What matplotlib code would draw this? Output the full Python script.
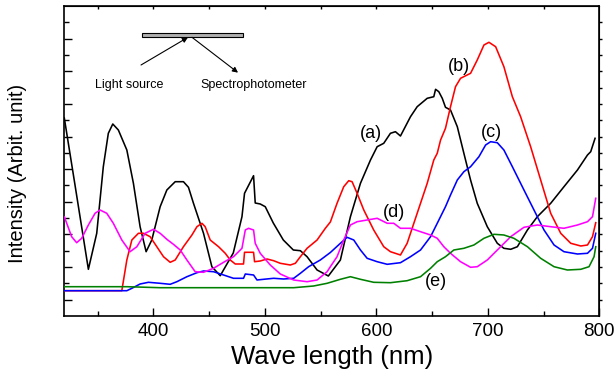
import matplotlib
matplotlib.use("Agg")
import matplotlib.pyplot as plt
from matplotlib.ticker import MultipleLocator, FixedLocator, NullFormatter
from matplotlib.patches import Rectangle, FancyArrowPatch

plt.rcParams['font.family'] = ['Liberation Sans', 'DejaVu Sans']

# ---- data (wavelength nm, intensity arb. units) ----
wl_a = [320, 329.6, 341.6, 349.1, 355.0, 359.5, 363.5, 368.5, 376.1, 382.0, 388.0, 393.4, 398.5,
        406.0, 412.0, 419.5, 426.9, 431.4, 435.9, 444.9, 452.4, 459.9, 471.6, 479.4, 481.7, 489.8,
        491.3, 495.8, 500.3, 507.5, 516.5, 525.5, 531.8, 537.8, 546.8, 556.9, 567.7, 576.7, 585.7,
        594.7, 600.7, 606.6, 612.6, 617.1, 621.6, 630.6, 636.6, 645.6, 651.5, 653.1, 656.0, 659.1,
        662.0, 666.5, 672.6, 678.5, 684.5, 690.5, 699.5, 708.5, 714.4, 720.5, 726.5, 735.5, 744.4,
        756.4, 768.3, 780.4, 789.4, 792.3, 796.2]
int_a = [198, 131, 46.7, 82.7, 149.3, 182.7, 192, 186, 166, 132.7, 89.3, 64.3, 76,
         109.3, 126, 134.3, 134.3, 128.7, 112.7, 82.7, 49.3, 40.3, 63, 99.3, 122.7, 140.3,
         113, 112, 109.3, 93, 76, 66, 65.3, 59.3, 46, 40, 56, 99.3, 132.7,
         156, 169.3, 172.7, 182.7, 184.3, 180, 199.3, 209.3, 217.7, 219.3, 226.7, 224.3, 217.7,
         208.7, 206, 189.3, 162.7, 136, 112.7, 89.3, 72.7, 67.7, 66.7, 69.3, 86, 99.3,
         112.7, 129.3, 146, 161, 164.3, 177.7]

wl_b = [320, 371.6, 376.1, 380.6, 386.5, 391.0, 397.0, 403.0, 409.0, 415.0, 419.5, 426.9, 434.5,
        439.0, 443.5, 446.4, 450.9, 458.4, 464.4, 468.9, 473.4, 480.8, 481.7, 489.8, 490.7, 495.8,
        501.9, 507.8, 513.8, 522.8, 527.3, 531.8, 537.8, 546.8, 554.2, 558.7, 564.7, 570.7, 575.2,
        578.2, 582.7, 588.7, 597.6, 606.6, 612.6, 621.6, 627.6, 633.6, 639.6, 645.6, 651.5, 654.6,
        657.6, 662.0, 666.5, 671.0, 675.5, 684.5, 690.5, 696.5, 701.0, 707.0, 714.4, 722.0, 729.4,
        738.4, 747.4, 756.4, 765.4, 774.4, 783.4, 789.4, 793.9, 796.8]
int_b = [25.3, 25.3, 56, 76, 82.7, 82.7, 79.3, 69.3, 59.3, 53.7, 56, 69.3, 81,
         89.3, 92.7, 89.3, 76, 69.3, 62.7, 56, 52, 52, 63.7, 63.7, 54.3, 55,
         57, 55.3, 52.7, 51, 52.7, 59.3, 67.7, 76, 87.7, 94, 112.7, 129.3, 135.3,
         134.3, 122.7, 106, 86, 69.3, 64.3, 61, 72.7, 92.7, 112.7, 132.7, 156, 162.7,
         176, 187.7, 209.3, 229.3, 237.7, 242.7, 256, 271, 273.7, 269.3, 249.3, 219.3, 199.3,
         169.3, 136, 102.7, 82.7, 72.7, 70, 71, 79.3, 93.3]

wl_c = [320, 376.1, 380.6, 388.0, 395.5, 406.0, 415.0, 421.0, 430.0, 439.0, 444.9, 453.9, 462.9,
        471.8, 480.8, 482.4, 489.8, 492.9, 498.8, 507.8, 516.8, 525.8, 531.8, 539.2, 549.7, 558.7,
        567.7, 573.7, 579.7, 585.7, 591.7, 600.7, 609.7, 621.6, 630.6, 639.6, 648.6, 654.6, 662.0,
        666.5, 672.6, 678.5, 684.5, 692.0, 698.0, 702.5, 708.5, 714.4, 722.0, 732.4, 741.4, 750.4,
        759.4, 768.3, 780.4, 789.4, 793.9, 796.8]
int_c = [25.3, 25.3, 27.7, 32, 33.7, 32.7, 31.7, 34.3, 39.3, 43.3, 45, 44.3, 41,
         37.7, 37.7, 42, 41, 36, 36.7, 37.7, 37, 37.7, 42.7, 49.3, 56, 63.5,
         72.7, 78.7, 76, 66, 57.7, 54.3, 51.7, 53.3, 59.3, 66, 79.3, 92.7, 109.3,
         121, 136, 144.3, 149.3, 159.3, 171, 174.3, 173.3, 166, 149.3, 126, 106, 86,
         71, 64.3, 62, 62.7, 67.7, 82.7]

wl_d = [320, 326.6, 331.1, 335.6, 341.6, 347.6, 352.1, 358.1, 364.0, 371.6, 379.0, 385.1, 392.5,
        400.0, 406.0, 412.0, 417.9, 424.0, 430.0, 437.4, 444.9, 453.9, 462.9, 471.8, 479.4, 482.4,
        485.3, 489.8, 491.3, 495.8, 504.8, 513.8, 525.8, 537.8, 546.8, 555.8, 558.7, 564.7, 570.7,
        576.7, 582.7, 591.7, 600.7, 609.7, 615.6, 621.6, 630.6, 639.6, 648.6, 654.6, 660.5, 666.5,
        675.5, 684.5, 690.5, 699.5, 708.5, 720.5, 732.4, 744.4, 756.4, 768.3, 780.4, 789.4, 793.9,
        796.8]
int_d = [99.3, 79.3, 73.3, 77.7, 91, 102.7, 106, 102.7, 92.7, 76, 64.3, 69.3, 82.7,
         86.7, 82.7, 76.7, 71.7, 66, 56, 44.3, 43.7, 47.7, 53.7, 59.3, 67.7, 86,
         87.7, 86, 72.7, 62.7, 51, 42, 36, 34.3, 36, 44.3, 49.3, 59.3, 76,
         91, 94.3, 96, 97.7, 92.7, 92.7, 87.7, 87.7, 84.3, 81, 77.7, 69.3, 62.7,
         54.3, 48.7, 49.3, 56, 66, 79.3, 88.7, 91, 89.3, 87.7, 91, 94.3, 99.3,
         117.7]

wl_e = [320, 376.1, 406.0, 525.8, 543.7, 555.8, 567.7, 576.7, 585.7, 597.6, 612.6, 627.6, 639.6,
        648.6, 654.6, 662.0, 669.5, 678.5, 687.5, 696.5, 705.5, 714.4, 723.4, 735.5, 747.4, 759.4,
        771.4, 783.4, 790.8, 795.3, 796.8]
int_e = [29.3, 29.3, 28.3, 28.3, 30, 32.7, 36.7, 39.3, 36.7, 33.7, 33.3, 35.3, 39.3,
         47.7, 54.3, 59.3, 66, 67.7, 71, 77.7, 81.7, 81, 77.7, 69.3, 57.7, 49.3,
         46, 46.7, 49.3, 59.3, 69.3]

series = [
    (wl_a, int_a, 'black', '(a)', 594.7, 182),
    (wl_b, int_b, '#ff0000', '(b)', 674.0, 249.3),
    (wl_c, int_c, '#0000ff', '(c)', 702.8, 183.7),
    (wl_d, int_d, '#ff00ff', '(d)', 616.0, 103.3),
    (wl_e, int_e, '#008000', '(e)', 653.3, 34.3),
]
x_ticks = [400, 500, 600, 700, 800]

fig = plt.figure(figsize=(6.16, 3.73), dpi=100)
ax = fig.add_axes([64.3/616, 57/373, 535/616, 310/373])

for wl, inten, col, lab, lx, ly in series:
    ax.plot(wl, inten, color=col, lw=1.15, zorder=3)
    ax.text(lx, ly, lab, fontsize=13, ha='center', va='center', color='black', zorder=4)

ax.set_xlim(320, 800)
ax.set_ylim(0, 310)
ax.xaxis.set_major_locator(FixedLocator(x_ticks))
ax.xaxis.set_minor_locator(MultipleLocator(50))
step = 310 / 19.0
ax.yaxis.set_major_locator(FixedLocator([step * k for k in range(1, 19, 2)]))
ax.yaxis.set_minor_locator(FixedLocator([step * k for k in range(2, 19, 2)]))
ax.yaxis.set_major_formatter(NullFormatter())
ax.tick_params(axis='x', which='major', direction='in', length=6, width=1, labelsize=13.5, pad=5)
ax.tick_params(axis='x', which='minor', direction='in', length=3.5, width=1)
ax.tick_params(axis='y', which='major', direction='in', length=6, width=1)
ax.tick_params(axis='y', which='minor', direction='in', length=3.5, width=1)
for s in ax.spines.values():
    s.set_linewidth(1.2)

sec_r = ax.secondary_yaxis('right')
sec_r.yaxis.set_major_locator(FixedLocator([step * k for k in range(1, 19)]))
sec_r.yaxis.set_major_formatter(NullFormatter())
sec_r.tick_params(direction='out', length=2, width=1)
sec_t = ax.secondary_xaxis('top')
sec_t.xaxis.set_major_locator(FixedLocator([350, 400, 450, 500, 550, 600, 650, 700, 750]))
sec_t.xaxis.set_major_formatter(NullFormatter())
sec_t.tick_params(direction='in', length=2, width=1)

fig.text(331.8/616, 1 - 357/373, 'Wave length (nm)', fontsize=18.5, ha='center', va='center')
fig.text(18/616, 1 - 173/373, 'Intensity (Arbit. unit)', fontsize=14.5, rotation=90,
         ha='center', va='center')

# inset sketch of measurement geometry
ax.add_patch(Rectangle((0.1447, 0.901), 0.1893, 0.011, transform=ax.transAxes,
                       facecolor='#b0b0b0', edgecolor='black', lw=0.8, zorder=5))
ax.add_patch(FancyArrowPatch((0.1434, 0.8097), (0.2312, 0.899), transform=ax.transAxes,
                             arrowstyle='-|>', mutation_scale=8, color='black', lw=0.8,
                             shrinkA=0, shrinkB=0, zorder=5))
ax.add_patch(FancyArrowPatch((0.2387, 0.899), (0.3247, 0.785), transform=ax.transAxes,
                             arrowstyle='-|>', mutation_scale=8, color='black', lw=0.8,
                             shrinkA=0, shrinkB=0, zorder=5))
ax.text(0.1219, 0.745, 'Light source', transform=ax.transAxes, fontsize=9,
        ha='center', va='center')
ax.text(0.3537, 0.745, 'Spectrophotometer', transform=ax.transAxes, fontsize=9,
        ha='center', va='center')

fig.savefig('out.png', dpi=100)
